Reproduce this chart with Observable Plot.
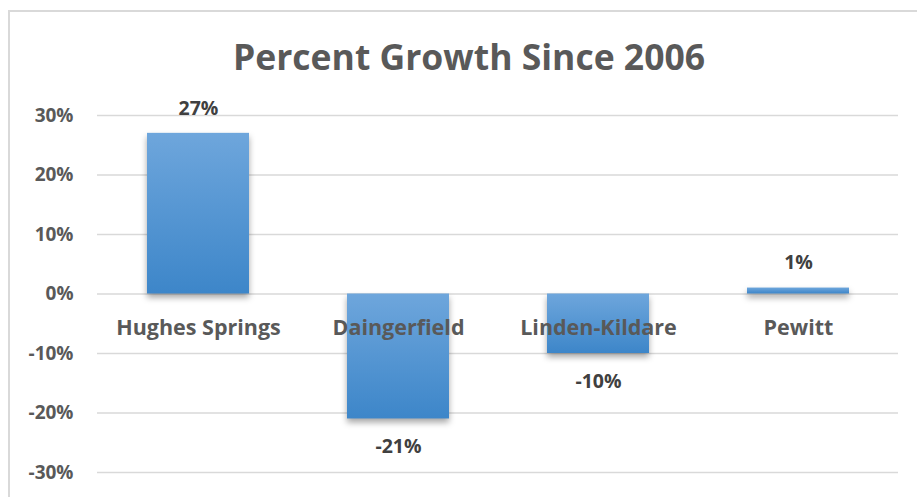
<!DOCTYPE html>
<html>
<head>
<meta charset="utf-8">
<script src="https://cdn.jsdelivr.net/npm/d3@7"></script>
<script src="https://cdn.jsdelivr.net/npm/@observablehq/plot@0.6"></script>
<style>
  html, body { margin: 0; padding: 0; background: #fff; overflow: hidden; }
  #wrap { position: relative; width: 917px; height: 497px; }
  #frame { position: absolute; left: 8px; top: 10px; width: 950px; height: 560px;
           border-left: 2px solid #d9d9d9; border-top: 2px solid #d9d9d9; box-sizing: border-box; }
  #title { position: absolute; top: 32px; left: 469px; transform: translateX(-50%);
           font-family: "Open Sans", sans-serif; font-weight: bold; font-size: 35.5px;
           color: #595959; white-space: nowrap; }
  #chart { position: absolute; left: 0; top: 0; }
</style>
</head>
<body>
<div id="wrap">
  <div id="frame"></div>
  <div id="chart"></div>
  <div id="title">Percent Growth Since 2006</div>
</div>
<script>
const categories = ["Hughes Springs", "Daingerfield", "Linden-Kildare", "Pewitt"];
const growth = [0.27, -0.21, -0.10, 0.01];
const valueLabels = ["27%", "-21%", "-10%", "1%"];
const yTicks = [-0.3, -0.2, -0.1, 0, 0.1, 0.2, 0.3];
const yTickLabels = ["-30%", "-20%", "-10%", "0%", "10%", "20%", "30%"];

const data = categories.map((c, i) => ({category: c, value: growth[i], label: valueLabels[i]}));
const pos = data.filter(d => d.value >= 0);
const neg = data.filter(d => d.value < 0);

const font = "'Open Sans', sans-serif";

const svg = Plot.plot({
  width: 917,
  height: 497,
  marginLeft: 97,
  marginRight: 19,
  marginTop: 115,
  marginBottom: 25,
  style: {fontFamily: font, fontSize: "19px", fontWeight: "bold", color: "#595959", background: "transparent"},
  x: {domain: categories, paddingInner: 0.49, paddingOuter: 0.245, axis: null},
  y: {domain: [-0.3, 0.3]},
  marks: [
    Plot.ruleY(yTicks, {stroke: "#d9d9d9", strokeWidth: 1.5}),
    Plot.axisY({ticks: yTicks, tickFormat: (d, i) => yTickLabels[yTicks.indexOf(d)], tickSize: 0, tickPadding: 24, label: null, fill: "#595959"}),
    Plot.barY(data, {x: "category", y: "value", fill: "url(#barGrad)"}),
    Plot.text(data, {x: "category", y: 0, text: "category", dy: 34, fontSize: 21.5, fontWeight: "bold", fill: "#595959"}),
    Plot.text(pos, {x: "category", y: "value", text: "label", dy: -25, fontSize: 19.5, fontWeight: "bold", fill: "#404040"}),
    Plot.text(neg, {x: "category", y: "value", text: "label", dy: 28, fontSize: 19.5, fontWeight: "bold", fill: "#404040"})
  ]
});

const defs = d3.create("svg:defs");
const g = defs.append("linearGradient").attr("id", "barGrad").attr("x1", 0).attr("y1", 0).attr("x2", 0).attr("y2", 1);
g.append("stop").attr("offset", "0%").attr("stop-color", "#6ea6dc");
g.append("stop").attr("offset", "100%").attr("stop-color", "#3d86c9");
svg.insertBefore(defs.node(), svg.firstChild);
d3.select(svg).selectAll("g[aria-label='bar']").style("filter", "drop-shadow(0px 4px 3px rgba(0,0,0,0.35))");

document.getElementById("chart").appendChild(svg);
</script>
</body>
</html>
